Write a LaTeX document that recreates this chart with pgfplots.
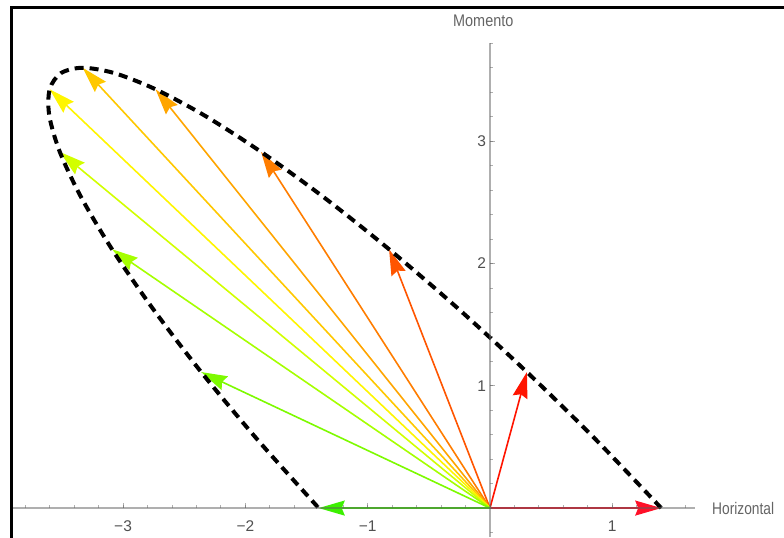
\documentclass[border=0pt]{standalone}
\usepackage{fontspec}
\setmainfont{Liberation Sans}
\usepackage{graphicx}
\usepackage{pgfplots}
\pgfplotsset{compat=1.18}
\usetikzlibrary{arrows.meta}
\definecolor{axgray}{RGB}{95,95,95}
\definecolor{lblgray}{RGB}{80,80,80}
\definecolor{labgray}{RGB}{100,100,100}
\definecolor{c0}{RGB}{255,16,40}
\definecolor{c1}{RGB}{255,20,0}
\definecolor{c2}{RGB}{255,85,0}
\definecolor{c3}{RGB}{255,125,0}
\definecolor{c4}{RGB}{255,165,0}
\definecolor{c5}{RGB}{255,200,0}
\definecolor{c6}{RGB}{255,245,0}
\definecolor{c7}{RGB}{210,255,0}
\definecolor{c8}{RGB}{165,255,0}
\definecolor{c9}{RGB}{125,250,0}
\definecolor{c10}{RGB}{60,240,0}
\begin{document}
\begin{tikzpicture}
\begin{axis}[
  x=122.3pt, y=122.3pt,
  xmin=-3.90, xmax=1.68, ymin=-0.237, ymax=3.8,
  axis lines=middle,
  axis line style={-, draw=axgray, draw opacity=0.5, line width=1.2pt},
  axis on top,
  clip=false,
  xtick={-3,-2,-1,1}, xticklabels={−3,−2,−1,1},
  ytick={1,2,3}, yticklabels={1,2,3},
  minor xtick={-3.8,-3.6,...,1.61},
  minor ytick={-0.2,0,0.2,...,3.81},
  tick align=inside,
  major tick length=5pt, minor tick length=3pt,
  tick style={draw=axgray, draw opacity=0.5, line width=0.8pt},
  ticklabel style={font=\fontsize{15.5}{15.5}\selectfont, text=lblgray},
  xticklabel style={yshift=-9pt},
  yticklabel style={xshift=-0.5pt},
  every axis plot/.append style={line width=1.6pt},
]
\addplot[c0, -{Stealth[length=26pt,width=15pt,inset=3pt]}] coordinates {(0,0) (1.400,0.000)};
\addplot[c1, -{Stealth[length=26pt,width=15pt,inset=3pt]}] coordinates {(0,0) (0.302,1.112)};
\addplot[c2, -{Stealth[length=26pt,width=15pt,inset=3pt]}] coordinates {(0,0) (-0.825,2.116)};
\addplot[c3, -{Stealth[length=26pt,width=15pt,inset=3pt]}] coordinates {(0,0) (-1.871,2.912)};
\addplot[c4, -{Stealth[length=26pt,width=15pt,inset=3pt]}] coordinates {(0,0) (-2.734,3.424)};
\addplot[c5, -{Stealth[length=26pt,width=15pt,inset=3pt]}] coordinates {(0,0) (-3.330,3.600)};
\addplot[c6, -{Stealth[length=26pt,width=15pt,inset=3pt]}] coordinates {(0,0) (-3.600,3.424)};
\addplot[c7, -{Stealth[length=26pt,width=15pt,inset=3pt]}] coordinates {(0,0) (-3.517,2.912)};
\addplot[c8, -{Stealth[length=26pt,width=15pt,inset=3pt]}] coordinates {(0,0) (-3.090,2.116)};
\addplot[c9, -{Stealth[length=26pt,width=15pt,inset=3pt]}] coordinates {(0,0) (-2.361,1.112)};
\addplot[c10, -{Stealth[length=26pt,width=15pt,inset=3pt]}] coordinates {(0,0) (-1.400,0.000)};
\addplot[black, line width=4pt, dash pattern=on 9pt off 6pt, smooth] coordinates {
(1.400,0.000) (0.862,0.563) (0.302,1.112) (-0.264,1.634) (-0.825,2.116)
(-1.365,2.546) (-1.871,2.912) (-2.331,3.208) (-2.734,3.424) (-3.070,3.556)
(-3.330,3.600) (-3.508,3.556) (-3.600,3.424) (-3.603,3.208) (-3.517,2.912)
(-3.345,2.546) (-3.090,2.116) (-2.759,1.634) (-2.361,1.112) (-1.904,0.563)
(-1.400,0.000)};
\node[anchor=west, inner sep=0pt, text=labgray, font=\fontsize{16.8}{17}\selectfont] at (axis cs:1.815,0) {\scalebox{0.82}[1]{Horizontal}};
\node[anchor=west, inner sep=0pt, text=labgray, font=\fontsize{16.8}{17}\selectfont] at (axis cs:-0.3025,3.982) {\scalebox{0.86}[1]{Momento}};
\draw[line width=2.8pt, black] (axis cs:-3.914,-0.3) -- (axis cs:-3.914,4.092) -- (axis cs:2.5,4.092);
\coordinate (bbBL) at (axis cs:-4.006,-0.237);
\coordinate (bbTR) at (axis cs:2.404,4.154);
\end{axis}
\pgfresetboundingbox
\useasboundingbox (bbBL) rectangle (bbTR);
\end{tikzpicture}
\end{document}
